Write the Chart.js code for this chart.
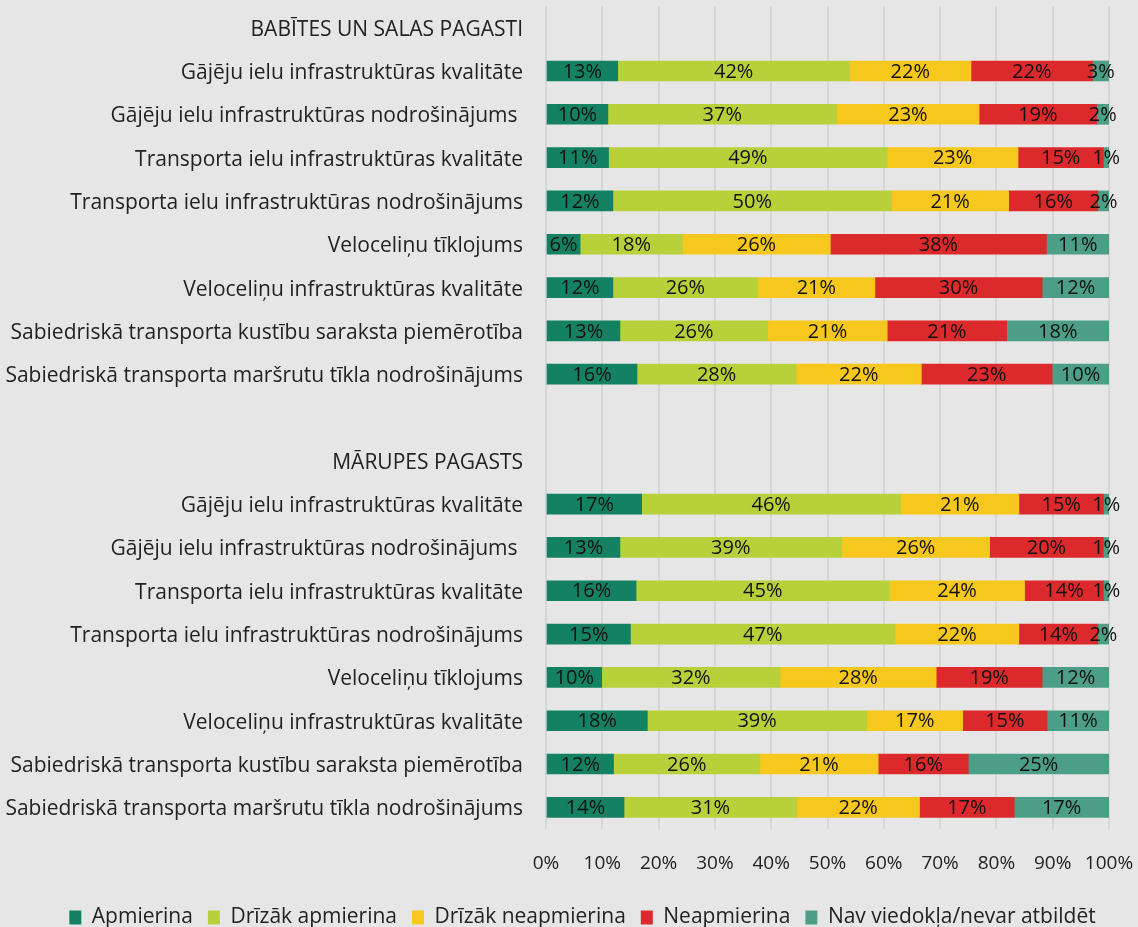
<!DOCTYPE html>
<html>
<head>
<meta charset="utf-8">
<script src="https://cdn.jsdelivr.net/npm/chart.js@4.4.1/dist/chart.umd.min.js"></script>
<style>
  html, body { margin: 0; padding: 0; background: #E7E6E6; }
  #wrap { width: 1138px; height: 927px; position: relative; }
</style>
</head>
<body>
<div id="wrap"><canvas id="chart"></canvas></div>
<script>
// rindas: virsraksti + tukša rinda starp grupām
const categories = [
  "BABĪTES UN SALAS PAGASTI",
  "Gājēju ielu infrastruktūras kvalitāte",
  "Gājēju ielu infrastruktūras nodrošinājums ",
  "Transporta ielu infrastruktūras kvalitāte",
  "Transporta ielu infrastruktūras nodrošinājums",
  "Veloceliņu tīklojums",
  "Veloceliņu infrastruktūras kvalitāte",
  "Sabiedriskā transporta kustību saraksta piemērotība",
  "Sabiedriskā transporta maršrutu tīkla nodrošinājums",
  "",
  "MĀRUPES PAGASTS",
  "Gājēju ielu infrastruktūras kvalitāte",
  "Gājēju ielu infrastruktūras nodrošinājums ",
  "Transporta ielu infrastruktūras kvalitāte",
  "Transporta ielu infrastruktūras nodrošinājums",
  "Veloceliņu tīklojums",
  "Veloceliņu infrastruktūras kvalitāte",
  "Sabiedriskā transporta kustību saraksta piemērotība",
  "Sabiedriskā transporta maršrutu tīkla nodrošinājums"
];

const apmierina        = [null, 13, 10, 11, 12,  6, 12, 13, 16, null, null, 17, 13, 16, 15, 10, 18, 12, 14];
const drizakApmierina  = [null, 42, 37, 49, 50, 18, 26, 26, 28, null, null, 46, 39, 45, 47, 32, 39, 26, 31];
const drizakNeapm      = [null, 22, 23, 23, 21, 26, 21, 21, 22, null, null, 21, 26, 24, 22, 28, 17, 21, 22];
const neapmierina      = [null, 22, 19, 15, 16, 38, 30, 21, 23, null, null, 15, 20, 14, 14, 19, 15, 16, 17];
const navViedokla      = [null,  3,  2,  1,  2, 11, 12, 18, 10, null, null,  1,  1,  1,  2, 12, 11, 25, 17];

const seriesNames = ["Apmierina", "Drīzāk apmierina", "Drīzāk neapmierina", "Neapmierina", "Nav viedokļa/nevar atbildēt"];
const seriesColors = ["#138162", "#B8D13A", "#F6C81D", "#DC292C", "#4C9F86"];
const xTicks = ["0%", "10%", "20%", "30%", "40%", "50%", "60%", "70%", "80%", "90%", "100%"];

const FONT = "'Open Sans', 'DejaVu Sans', sans-serif";
const series = [apmierina, drizakApmierina, drizakNeapm, neapmierina, navViedokla];

// 100% stacked: katru rindu normalizē pret tās summu (kā Excel)
const totals = categories.map((_, i) => {
  if (series[0][i] == null) return null;
  return series.reduce((s, arr) => s + arr[i], 0);
});

const datasets = series.map((arr, k) => ({
  label: seriesNames[k],
  data: arr.map((v, i) => v == null ? null : v / totals[i] * 100),
  shown: arr,
  backgroundColor: seriesColors[k],
  borderWidth: 0,
  barThickness: 20
}));

// skaitļi segmentu vidū
const barLabels = {
  id: "barLabels",
  afterDatasetsDraw(chart) {
    const ctx = chart.ctx;
    ctx.save();
    ctx.font = `20px ${FONT}`;
    ctx.fillStyle = "#111";
    ctx.textAlign = "center";
    ctx.textBaseline = "middle";
    chart.data.datasets.forEach((ds, i) => {
      const meta = chart.getDatasetMeta(i);
      meta.data.forEach((bar, j) => {
        const v = ds.shown[j];
        if (v == null) return;
        ctx.fillText(v + "%", (bar.x + bar.base) / 2, bar.y + 1);
      });
    });
    ctx.restore();
  }
};

// leģenda references attēlā nedaudz pa labi no centra
const shiftLegend = {
  id: "shiftLegend",
  afterLayout(chart) {
    const lg = chart.legend;
    if (!lg) return;
    lg.left += 28;
    lg.right += 28;
    (lg.legendHitBoxes || []).forEach(h => { h.left += 28; });
  }
};

new Chart(document.getElementById("chart"), {
  type: "bar",
  data: { labels: categories, datasets },
  plugins: [barLabels, shiftLegend],
  options: {
    indexAxis: "y",
    responsive: true,
    maintainAspectRatio: false,
    animation: false,
    layout: { padding: { top: 6, right: 29, bottom: -11, left: 0 } },
    plugins: {
      legend: {
        position: "bottom",
        labels: {
          boxWidth: 12, boxHeight: 14, padding: 15,
          color: "#222",
          font: { family: FONT, size: 21 }
        }
      },
      tooltip: { enabled: false }
    },
    scales: {
      x: {
        stacked: true,
        min: 0, max: 100,
        border: { display: false },
        grid: { color: "#D6D6D6", lineWidth: 2, drawTicks: false },
        afterFit: (scale) => { scale.height = 63; scale.paddingRight = 0; scale.paddingLeft = 0; },
        ticks: {
          stepSize: 10,
          padding: 23,
          color: "#222",
          font: { family: FONT, size: 19 },
          callback: (v, i) => xTicks[i]
        }
      },
      y: {
        stacked: true,
        border: { display: false },
        grid: { display: false, drawTicks: false },
        afterFit: (scale) => { scale.width = 546; scale.paddingTop = 0; scale.paddingBottom = 0; },
        ticks: {
          padding: 23,
          labelOffset: 2,
          color: "#222",
          font: { family: FONT, size: 21 },
          autoSkip: false
        }
      }
    }
  }
});
</script>
</body>
</html>
